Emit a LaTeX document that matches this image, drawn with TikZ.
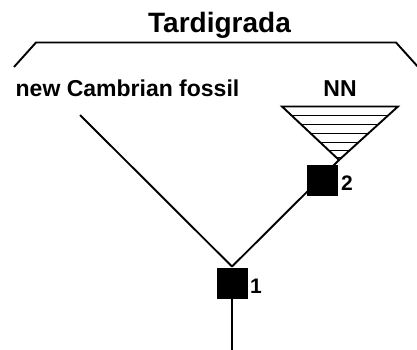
\documentclass[tikz,border=0pt]{standalone}
\usepackage{fontspec}
\setmainfont{Liberation Sans}
\begin{document}
\begin{tikzpicture}[x=1pt,y=-1pt,line width=1.9pt,
  lbl/.style={font=\bfseries\fontsize{23}{23}\selectfont,inner sep=0pt,anchor=base},
  ttl/.style={font=\bfseries\fontsize{28}{28}\selectfont,inner sep=0pt,anchor=base},
  num/.style={font=\bfseries\fontsize{21}{21}\selectfont,inner sep=0pt,anchor=base},
  sq/.style={fill=black,draw=none,minimum size=31pt,inner sep=0pt}]
\useasboundingbox (0,0) rectangle (417,350);
% title and bracket
\node[ttl] (title) at (219.5,33) {Tardigrada};
\coordinate (bl) at (14,67);
\coordinate (bt1) at (36,42.5);
\coordinate (bt2) at (396,42.5);
\coordinate (br) at (419,68);
\draw[line join=miter] (bl) -- (bt1) -- (bt2) -- (br);
% labels
\node[lbl] (fossil) at (127.5,97) {new Cambrian fossil};
\node[lbl] (nn) at (340,97) {NN};
% triangle
\coordinate (tl) at (282,106.5);
\coordinate (tr) at (398,106.5);
\coordinate (apex) at (339,160);
\begin{scope}
\clip (tl) -- (tr) -- (apex) -- cycle;
\foreach \yy in {115.5,124.5,133.5,142.5,150.5,157.5}
  \draw[line width=1.6pt] (270,\yy) -- (410,\yy);
\end{scope}
\draw[line join=miter] (tl) -- (tr) -- (apex) -- cycle;
% tree
\node[sq] (n1) at (232,283) {};
\node[sq] (n2) at (322,180) {};
\coordinate (fossilend) at (80,115);
\coordinate (root) at (232,352);
\draw (n1.north) -- (fossilend);
\draw (n1.north) -- (apex);
\draw (n1.south) -- (root);
\node[num] (l1) at (256,293) {1};
\node[num] (l2) at (347,190) {2};
\end{tikzpicture}
\end{document}
